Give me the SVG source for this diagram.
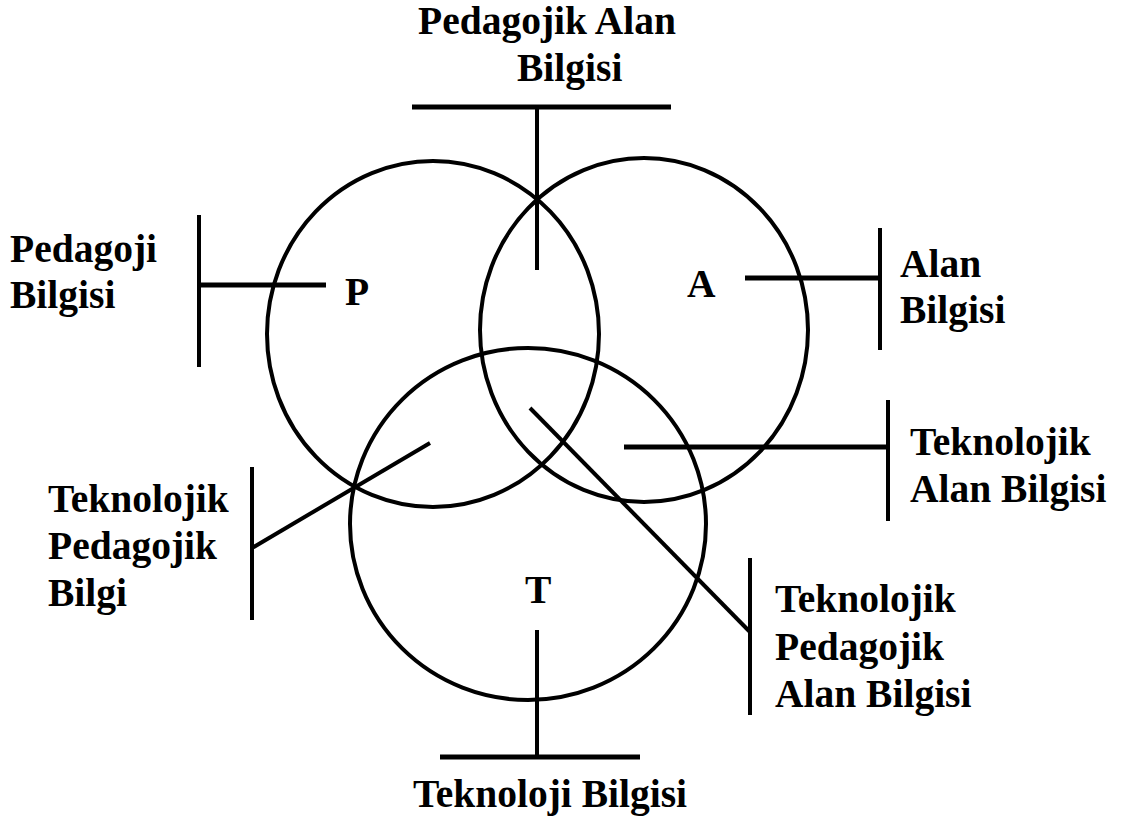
<svg xmlns="http://www.w3.org/2000/svg" width="1121" height="819" viewBox="0 0 1121 819">
<style>
.c{fill:none;stroke:#000;stroke-width:4}
.l{stroke:#000;stroke-width:4;fill:none}
.h{stroke:#000;stroke-width:5;fill:none}
text{font-family:"Liberation Serif","Times New Roman",serif;font-weight:bold;font-size:39.5px;fill:#000}
</style>
<rect width="1121" height="819" fill="#fff"/>
<g id="circle-P"><ellipse class="c" cx="433" cy="334" rx="166" ry="173"/><text x="345" y="305">P</text></g>
<g id="circle-A"><ellipse class="c" cx="644" cy="330" rx="164" ry="172"/><text x="687" y="297">A</text></g>
<g id="circle-T"><ellipse class="c" cx="528" cy="524" rx="178" ry="176"/><text x="525" y="603">T</text></g>
<g id="connectors">
<line class="h" x1="412" y1="107" x2="671" y2="107"/>
<line class="l" x1="537" y1="107" x2="537" y2="270"/>
<line class="l" x1="199" y1="215" x2="199" y2="367"/>
<line class="h" x1="199" y1="285" x2="326" y2="285"/>
<line class="l" x1="880" y1="228" x2="880" y2="350"/>
<line class="h" x1="745" y1="278" x2="880" y2="278"/>
<line class="l" x1="888" y1="400" x2="888" y2="521"/>
<line class="h" x1="624" y1="447" x2="888" y2="447"/>
<line class="l" x1="252" y1="467" x2="252" y2="620"/>
<line class="l" x1="252" y1="548" x2="430" y2="443"/>
<line class="l" x1="750" y1="558" x2="750" y2="715"/>
<line class="l" x1="530" y1="408" x2="750" y2="632"/>
<line class="l" x1="537" y1="630" x2="537" y2="757"/>
<line class="h" x1="440" y1="757" x2="640" y2="757"/>
</g>
<g id="label-pab"><text x="418" y="34">Pedagojik Alan</text><text x="517" y="81">Bilgisi</text></g>
<g id="label-pb"><text x="10" y="262">Pedagoji</text><text x="10" y="308">Bilgisi</text></g>
<g id="label-ab"><text x="900" y="277">Alan</text><text x="900" y="323">Bilgisi</text></g>
<g id="label-tab"><text x="910" y="455">Teknolojik</text><text x="910" y="502">Alan Bilgisi</text></g>
<g id="label-tpb"><text x="48" y="512">Teknolojik</text><text x="48" y="559">Pedagojik</text><text x="48" y="606">Bilgi</text></g>
<g id="label-tpab"><text x="775" y="612">Teknolojik</text><text x="775" y="660">Pedagojik</text><text x="775" y="707">Alan Bilgisi</text></g>
<g id="label-tb"><text x="413" y="807">Teknoloji Bilgisi</text></g>
</svg>
